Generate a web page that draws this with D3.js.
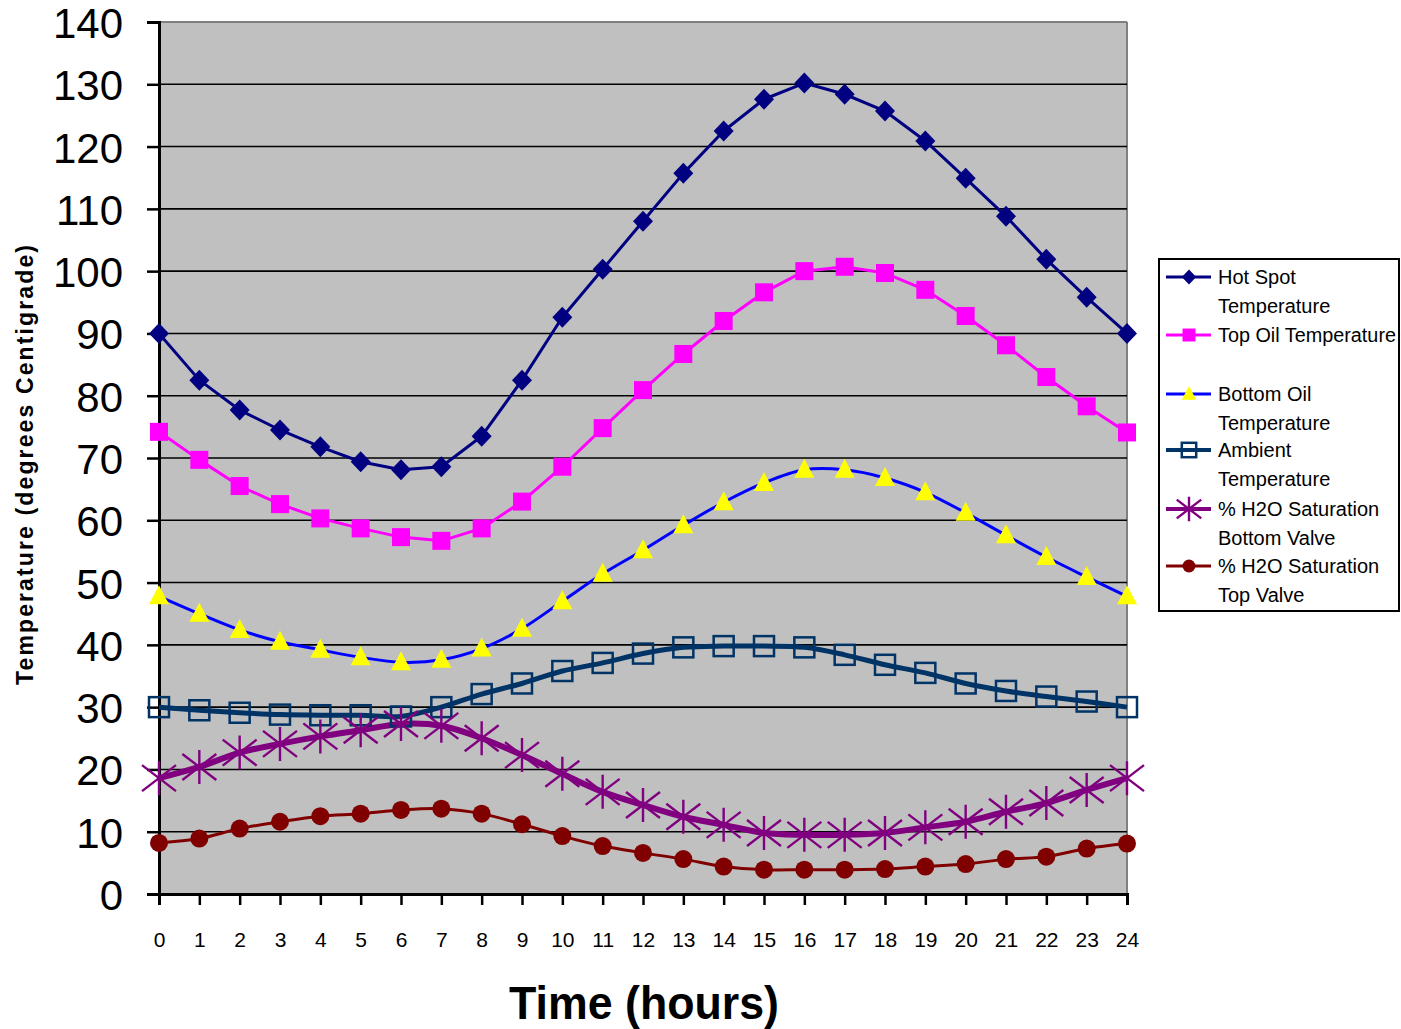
<!DOCTYPE html>
<html><head><meta charset="utf-8">
<script src="https://cdn.jsdelivr.net/npm/d3@7"></script>
<style>body{margin:0;background:#fff;}svg{display:block;font-family:"Liberation Sans",Arial,sans-serif;}</style>
</head><body><svg id="c" width="1401" height="1029"></svg>
<script>
const hours = d3.range(0,25);
const xTickLabels = hours.map(String);
const yTicks = [0,10,20,30,40,50,60,70,80,90,100,110,120,130,140];
const seriesNames = ["Hot Spot Temperature","Top Oil Temperature","Bottom Oil Temperature","Ambient Temperature","% H2O Saturation Bottom Valve","% H2O Saturation Top Valve"];
const hotSpot = [90,82.5,77.7,74.5,71.8,69.4,68.1,68.6,73.5,82.5,92.6,100.3,108,115.7,122.5,127.6,130.2,128.4,125.7,120.9,114.9,108.8,101.9,95.8,90];
const topOil = [74.2,69.7,65.5,62.6,60.3,58.7,57.3,56.7,58.7,63.0,68.6,74.8,80.9,86.7,92.0,96.6,100,100.7,99.7,97,92.8,88.1,83,78.3,74.1];
const bottomOil = [47.8,45,42.4,40.5,39.2,38.0,37.2,37.6,39.4,42.6,47,51.4,55.2,59.2,62.9,66,68.1,68.1,66.8,64.5,61.2,57.6,54.1,50.9,47.8];
const ambient = [30,29.5,29.1,28.8,28.7,28.7,28.5,30,32.1,33.8,35.8,37.1,38.6,39.6,39.8,39.8,39.6,38.4,36.8,35.5,33.8,32.6,31.7,30.9,30];
const h2oBottom = [18.6,20.4,22.7,24.1,25.3,26.3,27.3,27.0,25.0,22.3,19.3,16.4,14.3,12.4,11.1,9.8,9.5,9.5,9.8,10.7,11.6,13.2,14.6,16.7,18.6];
const h2oTop = [8.2,8.9,10.5,11.6,12.5,12.9,13.5,13.7,12.9,11.2,9.3,7.7,6.6,5.6,4.4,3.9,3.9,3.9,4.0,4.4,4.8,5.6,6.0,7.3,8.1];

const svg = d3.select("#c");
const x = d3.scaleLinear().domain([0,24]).range([159,1127]);
const y = d3.scaleLinear().domain([0,140]).range([894,22]);

svg.append("rect").attr("x",x(0)).attr("y",y(140)).attr("width",x(24)-x(0)).attr("height",y(0)-y(140)).attr("fill","#C0C0C0");
svg.append("line").attr("x1",x(0)).attr("x2",x(24)).attr("y1",y(140)).attr("y2",y(140)).attr("stroke","#808080").attr("stroke-width",2);
svg.append("line").attr("x1",x(24)).attr("x2",x(24)).attr("y1",y(140)).attr("y2",y(0)).attr("stroke","#808080").attr("stroke-width",2);
svg.append("g").selectAll("line").data(yTicks.filter(v=>v>0&&v<140)).join("line")
  .attr("x1",x(0)).attr("x2",x(24)).attr("y1",d=>y(d)).attr("y2",d=>y(d)).attr("stroke","#000").attr("stroke-width",1.6);

const yAxis = svg.append("g").attr("transform",`translate(${x(0)},0)`)
  .call(d3.axisLeft(y).tickValues(yTicks).tickSize(12).tickPadding(24).tickFormat(d3.format("d")));
yAxis.select(".domain").attr("stroke","#000").attr("stroke-width",3);
yAxis.selectAll(".tick line").attr("stroke","#000").attr("stroke-width",2.5);
yAxis.selectAll(".tick text").attr("font-size",42).attr("fill","#000").attr("font-family","Liberation Sans, Arial, sans-serif")
  .attr("dy","0.37em");

const xAxis = svg.append("g").attr("transform",`translate(0,${y(0)})`)
  .call(d3.axisBottom(x).tickValues(hours).tickSize(11).tickPadding(27).tickFormat((d,i)=>xTickLabels[i]));
xAxis.select(".domain").attr("stroke","#000").attr("stroke-width",3);
xAxis.selectAll(".tick line").attr("stroke","#000").attr("stroke-width",2.5);
xAxis.selectAll(".tick text").attr("font-size",21).attr("fill","#000").attr("font-family","Liberation Sans, Arial, sans-serif");

svg.append("text").attr("x",644).attr("y",1019).attr("text-anchor","middle").attr("font-size",47).attr("font-weight","bold")
  .attr("textLength",270).attr("lengthAdjust","spacingAndGlyphs").text("Time (hours)");
svg.append("text").attr("transform","translate(33,465) rotate(-90)").attr("text-anchor","middle").attr("font-size",23).attr("font-weight","bold")
  .attr("textLength",440).attr("lengthAdjust","spacing").text("Temperature (degrees Centigrade)");

const lineLin = d3.line().x((d,i)=>x(hours[i])).y(d=>y(d));
const lineSm = d3.line().x((d,i)=>x(hours[i])).y(d=>y(d)).curve(d3.curveCatmullRom.alpha(0.5));

const series = [
  {data:hotSpot, color:"#000080", w:3, curve:lineLin, marker:"diamond", fill:"#000080"},
  {data:topOil, color:"#FF00FF", w:3, curve:lineLin, marker:"square", fill:"#FF00FF"},
  {data:bottomOil, color:"#0000FF", w:3, curve:lineSm, marker:"triangle", fill:"#FFFF00"},
  {data:ambient, color:"#003366", w:5, curve:lineSm, marker:"hsquare", fill:"none"},
  {data:h2oBottom, color:"#800080", w:6, curve:lineSm, marker:"star", fill:"none"},
  {data:h2oTop, color:"#800000", w:3, curve:lineSm, marker:"circle", fill:"#800000"}
];

function drawMarker(g, type, color, fill, s){
  if(type==="diamond"){
    g.append("path").attr("d",`M0,${-10.5*s}L${10*s},0L0,${10.5*s}L${-10*s},0Z`).attr("fill",fill);
  } else if(type==="square"){
    g.append("rect").attr("x",-9*s).attr("y",-9*s).attr("width",18*s).attr("height",18*s).attr("fill",fill);
  } else if(type==="triangle"){
    g.append("path").attr("d",`M0,${-11*s}L${10*s},${8*s}L${-10*s},${8*s}Z`).attr("fill",fill);
  } else if(type==="hsquare"){
    g.append("rect").attr("x",-10*s).attr("y",-10*s).attr("width",20*s).attr("height",20*s).attr("fill","none").attr("stroke",color).attr("stroke-width",2.5);
  } else if(type==="star"){
    const r=17*s, dd=17*s, dh=13*s;
    g.append("path").attr("d",`M0,${-r}L0,${r}M${-dd},${-dh}L${dd},${dh}M${-dd},${dh}L${dd},${-dh}`).attr("stroke",color).attr("stroke-width",2.4).attr("fill","none");
  } else if(type==="circle"){
    g.append("circle").attr("r",9*s).attr("fill",fill);
  }
}

series.forEach(sr=>{
  svg.append("path").datum(sr.data).attr("d",sr.curve).attr("fill","none").attr("stroke",sr.color).attr("stroke-width",sr.w).attr("stroke-linejoin","round");
});
series.forEach(sr=>{
  sr.data.forEach((v,i)=>{
    const g = svg.append("g").attr("transform",`translate(${x(hours[i])},${y(v)})`);
    drawMarker(g, sr.marker, sr.color, sr.fill, 1);
  });
});

const lg = svg.append("g");
lg.append("rect").attr("x",1159).attr("y",259).attr("width",240).attr("height",352).attr("fill","#fff").attr("stroke","#000").attr("stroke-width",2);
const legendLines = [
  ["Hot Spot","Temperature"],
  ["Top Oil Temperature",""],
  ["Bottom Oil","Temperature"],
  ["Ambient","Temperature"],
  ["% H2O Saturation","Bottom Valve"],
  ["% H2O Saturation","Top Valve"]
];
const legendY = [277,335,394,450,509,566];
series.forEach((sr,i)=>{
  const ly = legendY[i];
  lg.append("line").attr("x1",1166).attr("x2",1211).attr("y1",ly).attr("y2",ly).attr("stroke",sr.color).attr("stroke-width",Math.min(sr.w,4));
  const g = lg.append("g").attr("transform",`translate(1189,${ly})`);
  drawMarker(g, sr.marker, sr.color, sr.fill, 0.72);
  legendLines[i].forEach((t,j)=>{
    if(t) lg.append("text").attr("x",1218).attr("y",ly+7+j*29).attr("font-size",20).attr("fill","#000")
      .attr("textLength", t==="Top Oil Temperature"?178:null).attr("lengthAdjust","spacingAndGlyphs").text(t);
  });
});
</script></body></html>
